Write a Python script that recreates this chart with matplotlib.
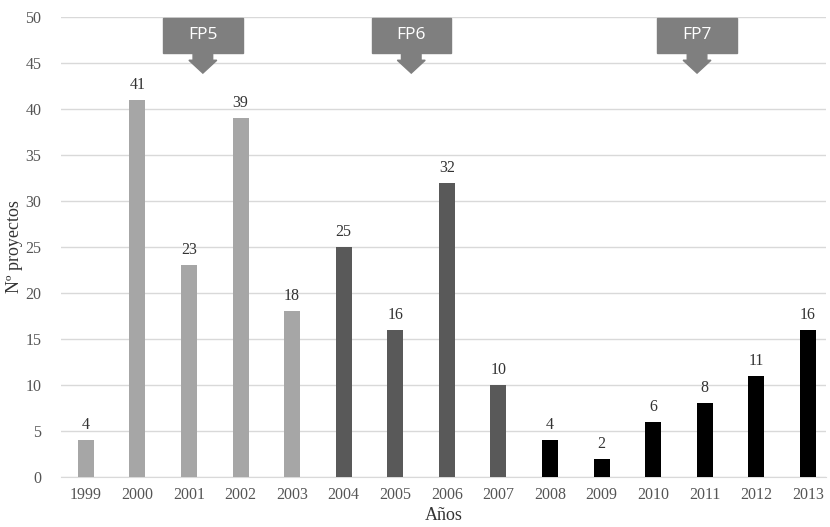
import matplotlib.pyplot as plt
from matplotlib.patches import Polygon

years = ["1999", "2000", "2001", "2002", "2003", "2004", "2005", "2006",
         "2007", "2008", "2009", "2010", "2011", "2012", "2013"]
proyectos = [4, 41, 23, 39, 18, 25, 16, 32, 10, 4, 2, 6, 8, 11, 16]
programa = ["FP5"] * 5 + ["FP6"] * 4 + ["FP7"] * 6
prog_colors = {"FP5": "#a6a6a6", "FP6": "#595959", "FP7": "#000000"}
# programme callouts: label and arrow position along the year axis
fp_labels = ["FP5", "FP6", "FP7"]
fp_pos = [2.27, 6.31, 11.85]

plt.rcParams["font.family"] = ["Liberation Serif", "DejaVu Serif"]

fig = plt.figure(figsize=(8.3, 5.27), dpi=100)
ax = fig.add_axes([61 / 830, 1 - 477 / 527, 765 / 830, 460 / 527])

x = list(range(len(years)))
ax.bar(x, proyectos, width=0.31, color=[prog_colors[p] for p in programa], zorder=3)
for xi, v in zip(x, proyectos):
    ax.annotate(str(v), (xi, v), xytext=(0, 5), textcoords="offset points",
                ha="center", va="bottom", fontsize=11.5, color="#333333")

ax.set_xlim(-0.48, 14.35)
ax.set_ylim(0, 50)
ax.set_yticks(range(0, 51, 5))
ax.set_xticks(x)
ax.set_xticklabels(years)
ax.tick_params(length=0, labelsize=11.5, colors="#555555", pad=7)
ax.tick_params(axis="y", pad=14)
ax.grid(axis="y", color="#d9d9d9", linewidth=1, zorder=0)
for s in ["top", "right", "left"]:
    ax.spines[s].set_visible(False)
ax.spines["bottom"].set_color("#d9d9d9")
ax.set_ylabel("Nº proyectos", fontsize=13, color="#333333", labelpad=2)
ax.set_xlabel("Años", fontsize=13, color="#333333", labelpad=3)

box_half = 0.77
for lab, cx in zip(fp_labels, fp_pos):
    box = Polygon([(cx - box_half, 46.1), (cx + box_half, 46.1),
                   (cx + box_half, 49.9), (cx - box_half, 49.9)],
                  closed=True, color="#7f7f7f", zorder=5, clip_on=False)
    arrow = Polygon([(cx - 0.19, 46.1), (cx + 0.19, 46.1), (cx + 0.19, 45.3),
                     (cx + 0.27, 45.3), (cx, 43.9), (cx - 0.27, 45.3),
                     (cx - 0.19, 45.3)],
                    closed=True, color="#7f7f7f", zorder=5, clip_on=False)
    ax.add_patch(box)
    ax.add_patch(arrow)
    ax.text(cx, 48.0, lab, ha="center", va="center", color="white",
            fontsize=12.5, family=["Open Sans", "DejaVu Sans"], zorder=6)

fig.savefig("out.png", dpi=100)
